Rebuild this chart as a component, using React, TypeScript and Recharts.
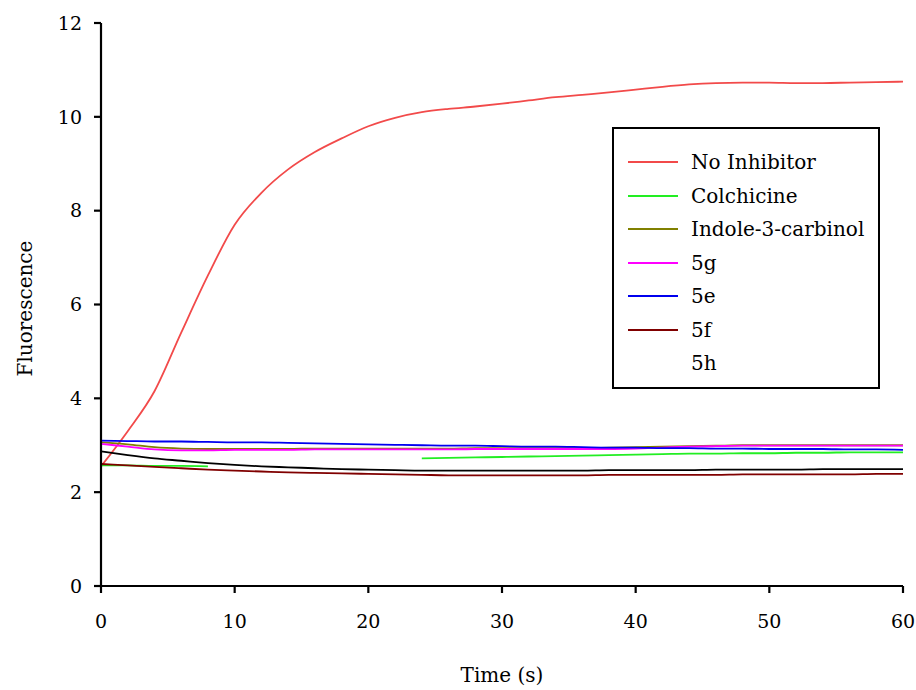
import React from 'react';
import { LineChart, Line, XAxis, YAxis, Label } from 'recharts';

const time = [0, 2, 4, 6, 8, 10, 12, 14, 16, 18, 20, 22, 24, 26, 28, 30, 32, 34, 36, 38, 40, 42, 44, 46, 48, 50, 52, 54, 56, 58, 60];

const noInhibitor = [2.55, 3.3, 4.15, 5.4, 6.62, 7.7, 8.38, 8.88, 9.25, 9.54, 9.8, 9.98, 10.1, 10.17, 10.22, 10.28, 10.35, 10.42, 10.47, 10.52, 10.58, 10.64, 10.69, 10.72, 10.73, 10.73, 10.72, 10.72, 10.73, 10.74, 10.75];
const colchicine = [2.57, 2.57, 2.56, 2.56, 2.55, null, null, null, null, null, null, null, 2.72, 2.73, 2.74, 2.75, 2.76, 2.77, 2.78, 2.79, 2.8, 2.81, 2.82, 2.82, 2.83, 2.83, 2.84, 2.84, 2.85, 2.85, 2.85];
const indole = [3.06, 3.02, 2.96, 2.93, 2.92, 2.92, 2.92, 2.92, 2.93, 2.93, 2.93, 2.93, 2.93, 2.93, 2.94, 2.94, 2.94, 2.94, 2.94, 2.95, 2.96, 2.97, 2.98, 2.99, 3.0, 3.0, 3.0, 3.0, 3.0, 3.0, 3.0];
const c5g = [3.03, 2.97, 2.91, 2.89, 2.89, 2.9, 2.9, 2.9, 2.91, 2.91, 2.91, 2.91, 2.91, 2.91, 2.92, 2.92, 2.92, 2.92, 2.92, 2.92, 2.93, 2.95, 2.97, 2.98, 2.99, 2.99, 2.99, 2.99, 2.99, 2.99, 2.99];
const c5e = [3.1, 3.09, 3.08, 3.08, 3.07, 3.06, 3.06, 3.05, 3.04, 3.03, 3.02, 3.01, 3.0, 2.99, 2.99, 2.98, 2.97, 2.97, 2.96, 2.95, 2.95, 2.94, 2.94, 2.93, 2.93, 2.92, 2.92, 2.92, 2.91, 2.91, 2.9];
const c5f = [2.6, 2.57, 2.54, 2.51, 2.48, 2.46, 2.44, 2.42, 2.41, 2.4, 2.39, 2.38, 2.37, 2.36, 2.36, 2.36, 2.36, 2.36, 2.36, 2.37, 2.37, 2.37, 2.37, 2.37, 2.38, 2.38, 2.38, 2.38, 2.38, 2.39, 2.39];
const c5h = [2.87, 2.79, 2.72, 2.67, 2.62, 2.58, 2.55, 2.53, 2.51, 2.49, 2.48, 2.47, 2.46, 2.46, 2.46, 2.46, 2.46, 2.46, 2.46, 2.47, 2.47, 2.47, 2.47, 2.48, 2.48, 2.48, 2.48, 2.49, 2.49, 2.49, 2.49];

const xTicks = [0, 10, 20, 30, 40, 50, 60];
const yTicks = [0, 2, 4, 6, 8, 10, 12];

// name, key, values, colour, shown in legend with a swatch
const series = [
  { name: 'No Inhibitor', key: 'noInhibitor', values: noInhibitor, color: '#f24a4a', swatch: true },
  { name: 'Colchicine', key: 'colchicine', values: colchicine, color: '#22ee22', swatch: true },
  { name: 'Indole-3-carbinol', key: 'indole', values: indole, color: '#808000', swatch: true },
  { name: '5g', key: 'c5g', values: c5g, color: '#ff00ff', swatch: true },
  { name: '5e', key: 'c5e', values: c5e, color: '#0000ee', swatch: true },
  { name: '5f', key: 'c5f', values: c5f, color: '#800000', swatch: true },
  { name: '5h', key: 'c5h', values: c5h, color: '#000000', swatch: false },
];

const data = time.map((t, i) => {
  const row: Record<string, number | null> = { t };
  series.forEach(s => { row[s.key] = s.values[i]; });
  return row;
});

const FONT = '"DejaVu Serif", serif';
const tickStyle = { fontFamily: FONT, fontSize: 19, fill: '#000' };

export default function App() {
  return (
    <div style={{ position: 'absolute', left: 0, top: 0, width: 916, height: 690, background: '#fff' }}>
      <LineChart width={916} height={690} data={data} margin={{ top: 23, right: 13, bottom: 0, left: 0 }}>
        <XAxis
          dataKey="t"
          type="number"
          domain={[0, 60]}
          ticks={xTicks}
          height={104}
          tickSize={7}
          tickMargin={22}
          stroke="#000"
          strokeWidth={2.2}
          tick={tickStyle}
        >
          <Label
            content={({ viewBox }: any) => (
              <text x={viewBox.x + viewBox.width / 2} y={682} textAnchor="middle" fontFamily={FONT} fontSize={20} fill="#000">
                Time (s)
              </text>
            )}
          />
        </XAxis>
        <XAxis xAxisId="top" dataKey="t" type="number" domain={[0, 60]} orientation="top" height={0} tick={false} tickLine={false} stroke="#000" strokeWidth={2.2} />
        <YAxis
          type="number"
          domain={[0, 12]}
          ticks={yTicks}
          width={101}
          tickSize={7}
          tickMargin={12}
          stroke="#000"
          strokeWidth={2.2}
          tick={tickStyle}
        >
          <Label
            content={({ viewBox }: any) => {
              const cy = viewBox.y + viewBox.height / 2 + 4;
              return (
                <text x={32} y={cy} transform={`rotate(-90 32 ${cy})`} textAnchor="middle" fontFamily={FONT} fontSize={20} fill="#000">
                  Fluorescence
                </text>
              );
            }}
          />
        </YAxis>
        <YAxis yAxisId="right" orientation="right" type="number" domain={[0, 12]} width={0} tick={false} tickLine={false} stroke="#000" strokeWidth={2.2} />
        {series.map(s => (
          <Line
            key={s.key}
            dataKey={s.key}
            type="monotone"
            stroke={s.color}
            strokeWidth={1.8}
            dot={false}
            activeDot={false}
            connectNulls={false}
            isAnimationActive={false}
          />
        ))}
      </LineChart>

      <div
        style={{
          position: 'absolute',
          left: 612,
          top: 127,
          width: 268,
          height: 262,
          border: '2px solid #000',
          boxSizing: 'border-box',
          background: '#fff',
          fontFamily: FONT,
          fontSize: 20,
        }}
      >
        {series.map((s, i) => (
          <div key={s.key} style={{ position: 'absolute', left: 0, top: 19 + i * 33.5, height: 28, display: 'flex', alignItems: 'center' }}>
            <div style={{ width: 50, height: 2, marginLeft: 14, background: s.swatch ? s.color : 'transparent' }} />
            <span style={{ marginLeft: 13, lineHeight: '28px' }}>{s.name}</span>
          </div>
        ))}
      </div>
    </div>
  );
}
